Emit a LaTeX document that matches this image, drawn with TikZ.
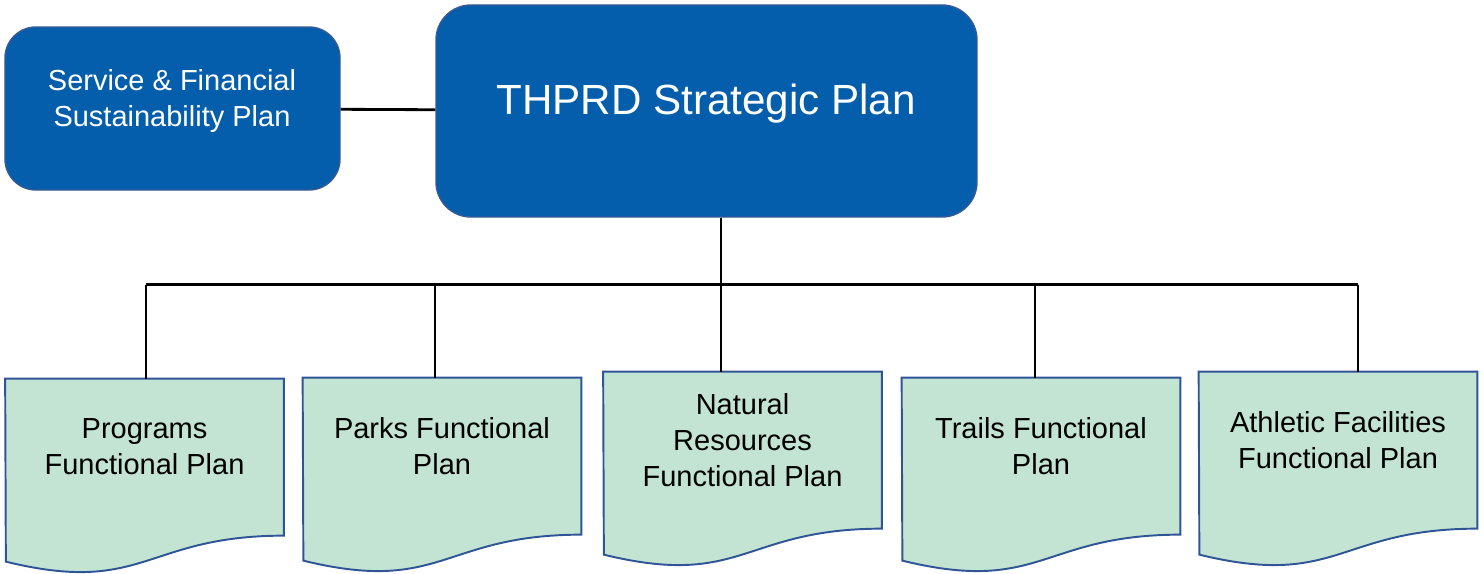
\documentclass[tikz,border=0pt]{standalone}
\usepackage{fontspec}
\setmainfont{Liberation Sans}
\usetikzlibrary{backgrounds}
\definecolor{planblue}{RGB}{4,94,171}
\definecolor{planedge}{RGB}{55,90,150}
\definecolor{docfill}{RGB}{195,228,210}
\definecolor{docedge}{RGB}{47,85,151}

\begin{document}
\begin{tikzpicture}[
  plan/.style={draw=planedge,line width=0.8pt,fill=planblue},
  plantext/.style={text=white,align=center,font=\fontsize{16.5}{20.5}\selectfont},
  doc/.style={minimum width=5.56cm,minimum height=2.72cm,inner sep=0pt,
    align=center,font=\fontsize{16.5}{20.5}\selectfont},
  docline/.style={draw=docedge,line width=1.1pt,fill=docfill},
  link/.style={black,line width=1.6pt}
]
  \useasboundingbox (0,0) rectangle (29.68,-11.46);

  \node[plan,rounded corners=0.62cm,minimum width=6.7cm,minimum height=3.26cm] (sfsp) at (3.45,-2.17) {};
  \node[plantext] (sfsptext) at (3.44,-2.02) {Service \& Financial\\Sustainability Plan};
  \node[plan,rounded corners=0.7cm,minimum width=10.82cm,minimum height=4.24cm] (strat) at (14.13,-2.22) {};
  \node[plantext,font=\fontsize{24}{29}\selectfont] (strattext) at (14.12,-2.08) {THPRD Strategic Plan};
  \draw[link] (sfsp) -- (strat);

  \node[doc] (prog) at (2.89,-8.94) {Programs\\Functional Plan};
  \node[doc] (parks) at (8.84,-8.92) {Parks Functional\\Plan};
  \node[doc] (natural) at (14.85,-8.80) {Natural\\Resources\\Functional Plan};
  \node[doc] (trails) at (20.82,-8.92) {Trails Functional\\Plan};
  \node[doc] (athletic) at (26.76,-8.80) {Athletic Facilities\\Functional Plan};

  \begin{scope}[on background layer]
    \foreach \d in {prog,parks,natural,trails,athletic}
      \draw[docline] (\d.north west) -- (\d.north east) -- ++(0,-3.14)
        .. controls +(-2.78,0) and +(2.78,-0.68) .. ++(-5.56,-0.52) -- cycle;
  \end{scope}

  \coordinate (b1) at (2.92,-5.69);
  \coordinate (b2) at (8.70,-5.69);
  \coordinate (b3) at (14.42,-5.69);
  \coordinate (b4) at (20.70,-5.69);
  \coordinate (b5) at (27.16,-5.69);
  \draw[link] (b1) -- (b5);
  \draw[link] (b3 |- strat.south) -- (b3);
  \foreach \b/\d in {b1/prog,b2/parks,b3/natural,b4/trails,b5/athletic}
    \draw[link] (\b) -- (\b |- \d.north);
\end{tikzpicture}
\end{document}
